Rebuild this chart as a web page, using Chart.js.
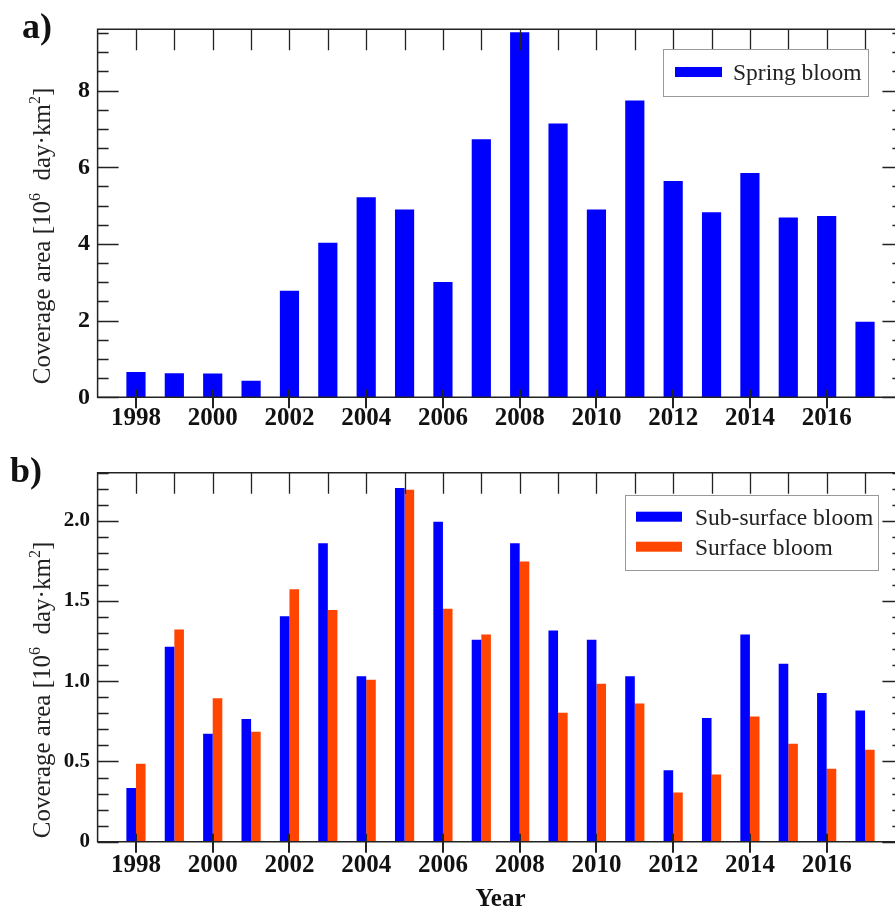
<!DOCTYPE html>
<html><head><meta charset="utf-8">
<script src="https://cdn.jsdelivr.net/npm/chart.js@4.4.1/dist/chart.umd.min.js"></script>
<style>
html,body{margin:0;padding:0;background:#fff;overflow:hidden;width:895px;height:915px;}
#wrap{position:relative;width:895px;height:915px;overflow:hidden;background:#fff;}
canvas{position:absolute;left:0;}
#ca{top:0;} #cb{top:430px;}
</style></head><body>
<div id="wrap"><canvas id="ca" width="910" height="430"></canvas><canvas id="cb" width="910" height="485"></canvas></div>
<script>
// ---- data ----
const years = [1998,1999,2000,2001,2002,2003,2004,2005,2006,2007,2008,2009,2010,2011,2012,2013,2014,2015,2016,2017];
const springBloom = [0.66,0.63,0.62,0.43,2.78,4.03,5.22,4.90,3.01,6.73,9.52,7.14,4.90,7.74,5.64,4.83,5.85,4.69,4.73,1.97];
const subSurfaceBloom = [0.334,1.215,0.673,0.765,1.406,1.861,1.031,2.204,1.994,1.259,1.861,1.317,1.259,1.031,0.446,0.771,1.292,1.109,0.927,0.817];
const surfaceBloom = [0.486,1.323,0.894,0.686,1.573,1.444,1.010,2.194,1.452,1.292,1.746,0.804,0.984,0.861,0.306,0.419,0.781,0.611,0.454,0.573];
const xTickYears = [1998,2000,2002,2004,2006,2008,2010,2012,2014,2016];
const yTicksA = [0,2,4,6,8];
const yTickLabelsA = ['0','2','4','6','8'];
const yTicksB = [0,0.5,1.0,1.5,2.0];
const yTickLabelsB = ['0','0.5','1.0','1.5','2.0'];
const seriesLabels = ['Spring bloom','Sub-surface bloom','Surface bloom'];
const yTitleParts = [['Coverage area [10',false],['6',true],['  day\u00B7km',false],['2',true],[']',false]];
const xTitle = 'Year';

const BLUE = '#0000FF', ORANGE = '#FF4500';
const SERIF = '"Liberation Serif", "Times New Roman", serif';

function drawYTitle(ctx, baseX, centerY, fs) {
  const supFs = Math.round(fs*0.62);
  let total = 0;
  const widths = yTitleParts.map(([t,s]) => { ctx.font = `${s?supFs:fs}px ${SERIF}`; const w = ctx.measureText(t).width; total += w; return w; });
  ctx.save();
  ctx.translate(baseX, centerY);
  ctx.rotate(-Math.PI/2);
  ctx.fillStyle = '#222';
  ctx.textBaseline = 'alphabetic';
  ctx.textAlign = 'left';
  let xx = -total/2;
  yTitleParts.forEach(([t,s],i) => {
    ctx.font = `${s?supFs:fs}px ${SERIF}`;
    ctx.fillText(t, xx, s ? -fs*0.42 : 0);
    xx += widths[i];
  });
  ctx.restore();
}

function makeDecor(cfg) {
  return {
    id: 'decor',
    afterDatasetsDraw(chart) {
      const {ctx, chartArea: a} = chart;
      const x = chart.scales.x, y = chart.scales.y;
      ctx.save();
      ctx.strokeStyle = '#222';
      ctx.lineWidth = 1.5;
      ctx.beginPath();
      ctx.rect(a.left, a.top, a.right - a.left, a.bottom - a.top);
      ctx.stroke();
      ctx.lineWidth = 1.3;
      ctx.beginPath();
      years.forEach(v => { const px = Math.round(x.getPixelForValue(v)) + 0.5; ctx.moveTo(px, a.top); ctx.lineTo(px, a.top + 21); });
      ctx.stroke();
      ctx.lineWidth = 2;
      ctx.beginPath();
      xTickYears.forEach(v => { const px = Math.round(x.getPixelForValue(v)); ctx.moveTo(px, a.bottom - 8); ctx.lineTo(px, a.bottom + 11); });
      ctx.stroke();
      ctx.lineWidth = 1.3;
      ctx.beginPath();
      const n = Math.round(y.max / cfg.minorStep);
      for (let i = 0; i <= n; i++) {
        const v = i * cfg.minorStep;
        const r = v / cfg.majorStep;
        const major = Math.abs(r - Math.round(r)) < 1e-6;
        const len = major ? 21 : 11;
        const py = Math.round(y.getPixelForValue(v)) + 0.5;
        ctx.moveTo(a.left, py); ctx.lineTo(a.left + len, py);
        ctx.moveTo(a.right, py); ctx.lineTo(a.right - len, py);
      }
      ctx.stroke();
      ctx.restore();
    },
    afterDraw(chart) {
      const ctx = chart.ctx;
      ctx.save();
      ctx.fillStyle = '#111';
      ctx.font = `bold 36px ${SERIF}`;
      ctx.textAlign = 'left'; ctx.textBaseline = 'alphabetic';
      ctx.fillText(cfg.letter, cfg.letterX, cfg.letterY);
      drawYTitle(ctx, 50, cfg.titleCY, 25);
      const L = cfg.legend;
      ctx.fillStyle = '#fff';
      ctx.fillRect(L.x, L.y, L.w, L.h);
      ctx.strokeStyle = '#999'; ctx.lineWidth = 1;
      ctx.strokeRect(L.x + 0.5, L.y + 0.5, L.w, L.h);
      ctx.font = `23.5px ${SERIF}`;
      chart.data.datasets.forEach((ds, i) => {
        const cy = L.firstY + i * L.rowH;
        ctx.fillStyle = ds.backgroundColor;
        ctx.fillRect(L.swX, cy - 5, L.swW, 10);
        ctx.fillStyle = '#222';
        ctx.fillText(ds.label, L.textX, cy + 8);
      });
      ctx.restore();
    }
  };
}

function baseOptions(yMax, yTicks, yLabels, yFont, xPad, xHeight, topPad, withTitle) {
  return {
    responsive: false, animation: false, devicePixelRatio: 1,
    layout: { padding: { top: topPad, right: 910 - 903.4, left: 0, bottom: 0 } },
    plugins: { legend: { display: false }, tooltip: { enabled: false } },
    scales: {
      x: {
        type: 'linear', min: 1997, max: 2018, offset: false,
        grid: { display: false, drawTicks: false }, border: { display: false },
        afterBuildTicks: s => { s.ticks = xTickYears.map(v => ({ value: v })); },
        ticks: { padding: xPad, color: '#111', autoSkip: false, maxRotation: 0,
                 font: { family: SERIF, size: 25, weight: 'bold' }, callback: v => String(v) },
        title: { display: withTitle, text: xTitle, color: '#111', padding: { top: 0, bottom: 0 },
                 font: { family: SERIF, size: 25, weight: 'bold' } },
        afterFit: s => { s.height = xHeight; }
      },
      y: {
        min: 0, max: yMax,
        grid: { display: false, drawTicks: false }, border: { display: false },
        afterBuildTicks: s => { s.ticks = yTicks.map(v => ({ value: v })); },
        ticks: { padding: 7.5, color: '#111', font: { family: SERIF, size: yFont, weight: 'bold' },
                 callback: v => yLabels[yTicks.indexOf(v)] },
        afterFit: s => { s.width = 97.6; }
      }
    }
  };
}

new Chart(document.getElementById('ca'), {
  type: 'bar',
  data: { datasets: [{
    label: seriesLabels[0],
    data: years.map((yr, i) => ({ x: yr, y: springBloom[i] })),
    backgroundColor: BLUE, borderWidth: 0,
    categoryPercentage: 0.5, barPercentage: 1
  }]},
  options: baseOptions(9.6, yTicksA, yTickLabelsA, 24, 6.7, 32.7, 29.3, false),
  plugins: [makeDecor({
    minorStep: 0.5, majorStep: 2, letter: 'a)', letterX: 22, letterY: 38, titleCY: 236,
    legend: { x: 663, y: 49, w: 205, h: 47, swX: 675, swW: 47, textX: 733, firstY: 72, rowH: 30 }
  })]
});

new Chart(document.getElementById('cb'), {
  type: 'bar',
  data: { datasets: [{
    label: seriesLabels[1],
    data: years.map((yr, i) => ({ x: yr, y: subSurfaceBloom[i] })),
    backgroundColor: BLUE, borderWidth: 0,
    categoryPercentage: 0.5, barPercentage: 1
  }, {
    label: seriesLabels[2],
    data: years.map((yr, i) => ({ x: yr, y: surfaceBloom[i] })),
    backgroundColor: ORANGE, borderWidth: 0,
    categoryPercentage: 0.5, barPercentage: 1
  }]},
  options: baseOptions(2.3, yTicksB, yTickLabelsB, 21, 9.3, 73.3, 42.7, true),
  plugins: [makeDecor({
    minorStep: 0.1, majorStep: 0.5, letter: 'b)', letterX: 10, letterY: 52, titleCY: 260,
    legend: { x: 625, y: 65, w: 253, h: 75, swX: 636, swW: 46, textX: 695, firstY: 86.7, rowH: 30 }
  })]
});
</script>
</body></html>
